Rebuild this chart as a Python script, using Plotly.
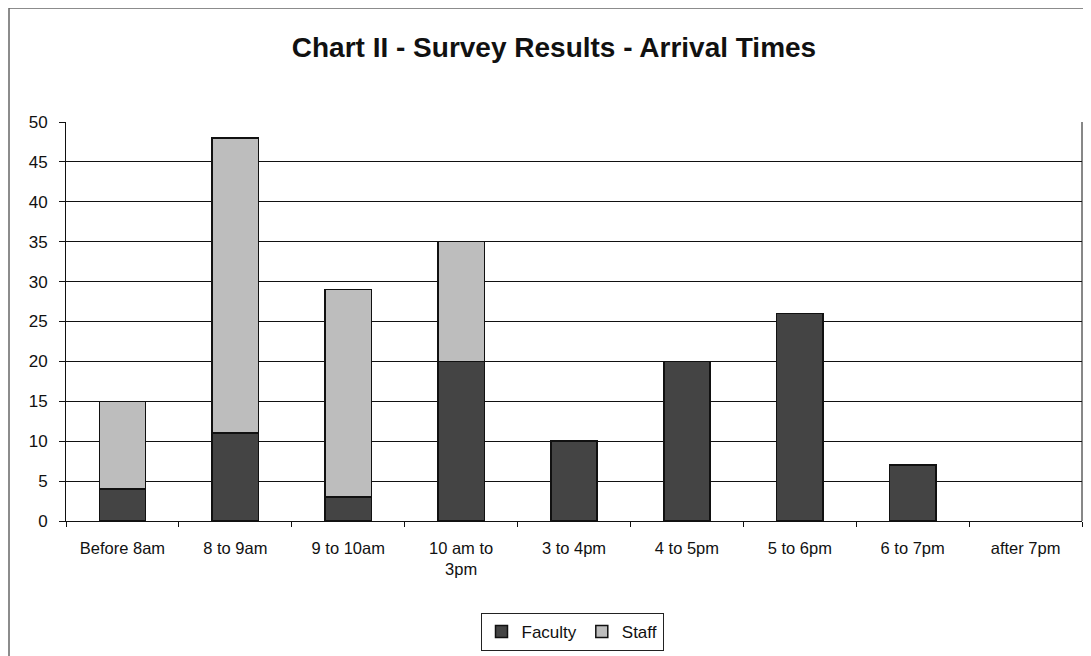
import plotly.graph_objects as go

categories = ["Before 8am", "8 to 9am", "9 to 10am", "10 am to<br>3pm", "3 to 4pm",
              "4 to 5pm", "5 to 6pm", "6 to 7pm", "after 7pm"]
faculty = [4, 11, 3, 20, 10, 20, 26, 7, 0]
staff = [11, 37, 26, 15, 0, 0, 0, 0, 0]

# the page body adds an 8px offset; figure coordinates below are relative to it
OFF = 8
W, H = 1091, 656
L, T = 66 - OFF, 122 - OFF
plot_right, plot_bottom = 1082 - OFF, 521 - OFF
R, B = W - plot_right, H - plot_bottom
pw = W - L - R
ph = H - T - B

def px_x(p):
    return (p - OFF - L) / pw

def px_y(p):
    return (T + ph - (p - OFF)) / ph

def widths(vals):
    return [1.5 if v else 0 for v in vals]

fig = go.Figure()
fig.add_trace(go.Bar(name="Faculty", x=categories, y=faculty,
                     marker=dict(color="#444444", line=dict(color="#111111", width=widths(faculty)))))
fig.add_trace(go.Bar(name="Staff", x=categories, y=staff,
                     marker=dict(color="#bdbdbd", line=dict(color="#111111", width=widths(staff)))))

fig.update_layout(
    barmode="stack",
    bargap=0.59,
    width=W, height=H,
    margin=dict(l=L, r=R, t=T, b=B, autoexpand=False),
    paper_bgcolor="white",
    plot_bgcolor="white",
    font=dict(family="Liberation Sans, Arial, sans-serif", size=16.5, color="#111111"),
    title=dict(text="<b>Chart II - Survey Results - Arrival Times</b>",
               x=px_x(554), xref="paper", xanchor="center", y=1 - (47 - OFF) / H, yanchor="middle",
               font=dict(size=28, color="#111111")),
    legend=dict(orientation="h", x=px_x(572), xanchor="center",
                y=px_y(632), yanchor="middle",
                bordercolor="#222222", borderwidth=1, bgcolor="white",
                font=dict(size=17), itemwidth=30, traceorder="normal"),
    xaxis=dict(showline=True, linecolor="#111111", linewidth=1,
               ticks="outside", ticklen=5, tickcolor="#111111", ticklabelstandoff=12,
               tickson="boundaries", showgrid=False, tickfont=dict(size=16.5)),
    yaxis=dict(range=[0, 50], dtick=5, showline=True, linecolor="#111111", linewidth=1,
               ticks="outside", ticklen=6, tickcolor="#111111", ticklabelstandoff=8,
               showgrid=True, gridcolor="#111111", gridwidth=1, zeroline=False,
               tickfont=dict(size=17)),
)
# plot area right border
fig.add_shape(type="line", xref="paper", yref="paper", x0=1, x1=1, y0=0, y1=1,
              line=dict(color="#111111", width=1))
# outer chart frame (left and top edges visible)
fig.add_shape(type="line", xref="paper", yref="paper",
              x0=px_x(9), x1=px_x(9), y0=px_y(H + 20), y1=px_y(8),
              line=dict(color="#666666", width=1.5))
fig.add_shape(type="line", xref="paper", yref="paper",
              x0=px_x(9), x1=px_x(W + 20), y0=px_y(8), y1=px_y(8),
              line=dict(color="#666666", width=1.5))
fig.write_html("out.html")
